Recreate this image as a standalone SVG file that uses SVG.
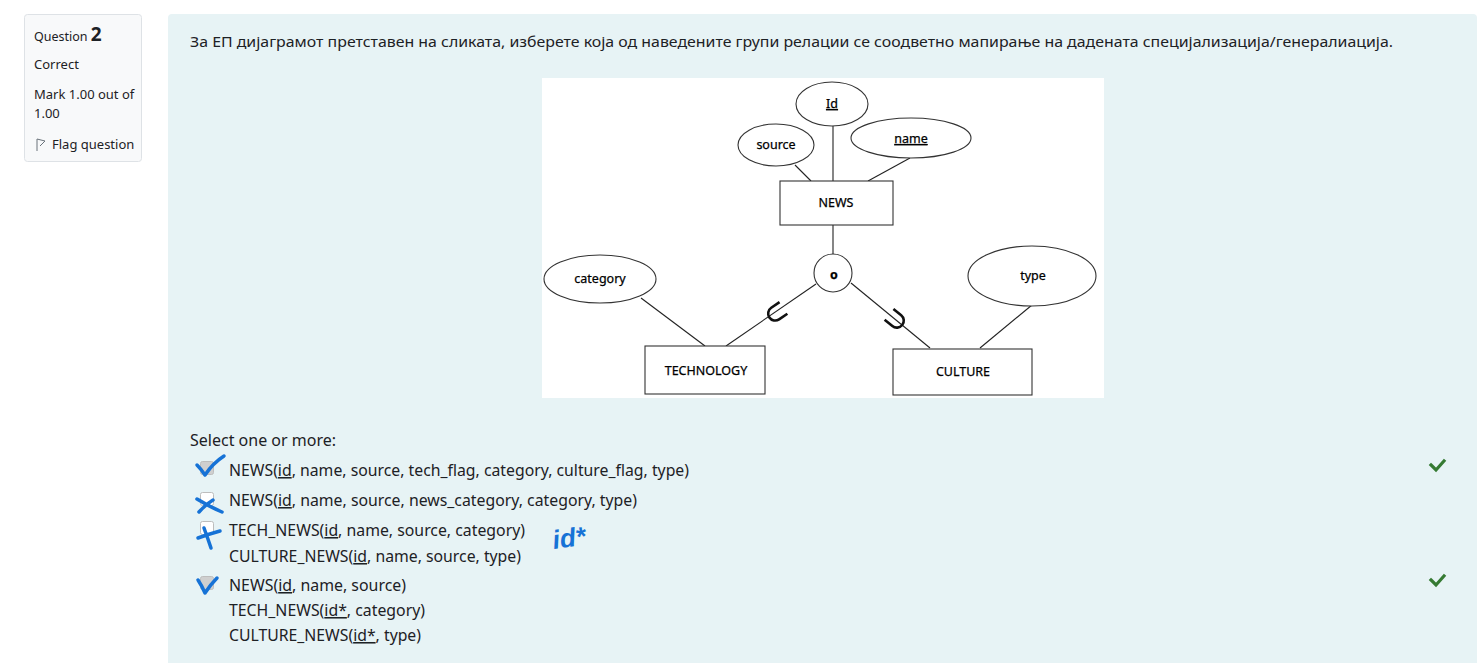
<svg xmlns="http://www.w3.org/2000/svg" width="1481" height="663" viewBox="0 0 1481 663">
<style>
.ui{font-family:"Noto Sans","Open Sans","Liberation Sans",sans-serif;fill:#1d2125}
.er{font-family:"Noto Sans","Open Sans","Liberation Sans",sans-serif;font-size:12.5px;fill:#000;stroke:#000;stroke-width:0.25;text-anchor:middle}
.shape{fill:#fff;stroke:#333;stroke-width:1.1}
.ln{stroke:#222;stroke-width:1.1;fill:none}
.u{text-decoration:underline}
.pen{fill:none;stroke:#1672d6;stroke-width:3.5;stroke-linecap:round;stroke-linejoin:round}
.ok{fill:none;stroke:#357a32;stroke-width:3.2;stroke-linecap:square}
.sub{fill:none;stroke:#111;stroke-width:2.6}
.cb{stroke:#bdbdbd;stroke-width:1}
</style>
<rect width="1481" height="663" fill="#fff"/>
<g id="info">
<rect x="24.5" y="14.5" width="117" height="147" rx="3" fill="#f8f9fa" stroke="#dee2e6"/>
<text class="ui" x="34" y="41" font-size="12.5">Question <tspan font-size="19" font-weight="bold">2</tspan></text>
<text class="ui" x="34" y="69" font-size="13">Correct</text>
<text class="ui" x="34" y="99" font-size="13">Mark 1.00 out of</text>
<text class="ui" x="34" y="118" font-size="13">1.00</text>
<path d="M37,151 V139 L45,141 L40,146" fill="none" stroke="#6a737b" stroke-width="1"/>
<text class="ui" x="52" y="149" font-size="13">Flag question</text>
</g>
<rect x="168" y="14" width="1309" height="660" rx="4" fill="#e7f3f5"/>
<text class="ui" x="190" y="47" font-size="15" textLength="1203" lengthAdjust="spacingAndGlyphs">За ЕП дијаграмот претставен на сликата, изберете која од наведените групи релации се соодветно мапирање на дадената специјализација/генералиација.</text>
<rect x="542" y="78" width="562" height="320" fill="#fff"/>
<g id="connectors">
<line class="ln" x1="833" y1="126" x2="833" y2="181"/>
<line class="ln" x1="795" y1="165" x2="811" y2="181"/>
<line class="ln" x1="910" y1="158" x2="868" y2="181" stroke="#555"/>
<line class="ln" x1="833" y1="225" x2="833" y2="255"/>
<line class="ln" x1="641" y1="298" x2="705" y2="346"/>
<line class="ln" x1="816" y1="284" x2="726" y2="346"/>
<line class="ln" x1="851" y1="283" x2="930" y2="348"/>
<line class="ln" x1="1032" y1="305" x2="980" y2="348"/>
<path class="sub" d="M-7,-9 V1 A7,7 0 0 0 7,1 V-9" transform="translate(776,313) rotate(56)"/>
<path class="sub" d="M-7,-9 V1 A7,7 0 0 0 7,1 V-9" transform="translate(896,320) rotate(-51)"/>
</g>
<g id="attr-id"><ellipse class="shape" cx="832" cy="104" rx="36" ry="22"/><text class="er u" x="832" y="108">Id</text></g>
<g id="attr-source"><ellipse class="shape" cx="776" cy="145" rx="38" ry="21"/><text class="er" x="776" y="149">source</text></g>
<g id="attr-name"><ellipse class="shape" cx="911" cy="138" rx="60" ry="20"/><text class="er u" x="911" y="143">name</text></g>
<g id="news"><rect class="shape" x="780" y="181" width="113" height="44"/><text class="er" x="836" y="207">NEWS</text></g>
<g id="overlap"><circle class="shape" cx="833" cy="273" r="19"/><text class="er" x="834" y="279" font-weight="bold">o</text></g>
<g id="attr-category"><ellipse class="shape" cx="600" cy="279" rx="56" ry="24"/><text class="er" x="600" y="283">category</text></g>
<g id="attr-type"><ellipse class="shape" cx="1032" cy="276" rx="64" ry="30"/><text class="er" x="1033" y="280">type</text></g>
<g id="technology"><rect class="shape" x="645" y="346" width="120" height="48"/><text class="er" x="706" y="375">TECHNOLOGY</text></g>
<g id="culture"><rect class="shape" x="893" y="349" width="139" height="46"/><text class="er" x="963" y="376">CULTURE</text></g>
<g id="answers">
<text class="ui" x="190" y="446" font-size="15.5" textLength="146" lengthAdjust="spacingAndGlyphs">Select one or more:</text>
<rect class="cb" x="200.5" y="461.5" width="13" height="13" rx="2" fill="#cfcfcf"/>
<rect class="cb" x="200.5" y="492.5" width="13" height="13" rx="2" fill="#fff"/>
<rect class="cb" x="200.5" y="521.5" width="13" height="13" rx="2" fill="#fff"/>
<rect class="cb" x="200.5" y="576.5" width="13" height="13" rx="2" fill="#cfcfcf"/>
<text class="ui" x="229" y="476" font-size="15.5" textLength="460" lengthAdjust="spacingAndGlyphs">NEWS(<tspan class="u">id</tspan>, name, source, tech_flag, category, culture_flag, type)</text>
<text class="ui" x="229" y="506" font-size="15.5" textLength="408" lengthAdjust="spacingAndGlyphs">NEWS(<tspan class="u">id</tspan>, name, source, news_category, category, type)</text>
<text class="ui" x="229" y="536" font-size="15.5" textLength="296" lengthAdjust="spacingAndGlyphs">TECH_NEWS(<tspan class="u">id</tspan>, name, source, category)</text>
<text class="ui" x="229" y="562" font-size="15.5" textLength="292" lengthAdjust="spacingAndGlyphs">CULTURE_NEWS(<tspan class="u">id</tspan>, name, source, type)</text>
<text class="ui" x="229" y="591" font-size="15.5" textLength="177" lengthAdjust="spacingAndGlyphs">NEWS(<tspan class="u">id</tspan>, name, source)</text>
<text class="ui" x="229" y="616" font-size="15.5" textLength="196" lengthAdjust="spacingAndGlyphs">TECH_NEWS(<tspan class="u">id*</tspan>, category)</text>
<text class="ui" x="229" y="641" font-size="15.5" textLength="192" lengthAdjust="spacingAndGlyphs">CULTURE_NEWS(<tspan class="u">id*</tspan>, type)</text>
<path class="pen" d="M197,465 Q201,469 205,475 Q213,463 224,456"/>
<path class="pen" d="M197,499 Q210,507 222,512 M199,512 Q206,504 213,500"/>
<path class="pen" d="M198,538 Q209,534 220,531 M204,528 Q208,539 211,548"/>
<path class="pen" d="M198,580 Q202,586 205,593 Q211,584 217,578"/>
<text x="552" y="546" font-family="'Liberation Sans',sans-serif" font-size="26" font-style="italic" font-weight="bold" fill="#1672d6" transform="rotate(-8 575 535)">id*</text>
<path class="ok" d="M1431,465 L1436,470 L1444,461"/>
<path class="ok" d="M1431,580 L1436,585 L1444,576"/>
</g>
</svg>
